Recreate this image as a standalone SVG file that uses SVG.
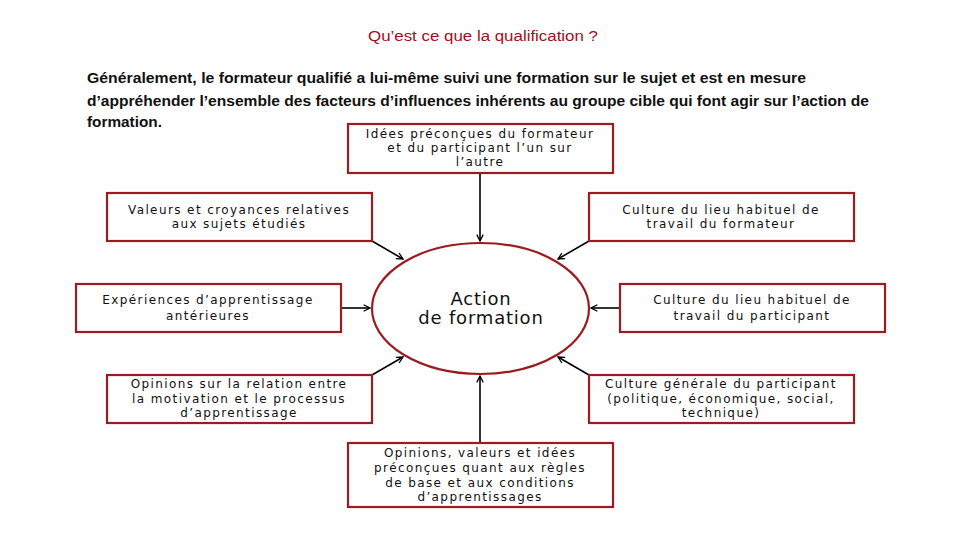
<svg xmlns="http://www.w3.org/2000/svg" width="960" height="540" viewBox="0 0 960 540">
<defs>
<style>
.box{fill:#fff;stroke:#9b1b20;stroke-width:2.2}
.bt{font-family:"DejaVu Sans",Verdana,sans-serif;font-size:12px;letter-spacing:1.4px;fill:#111;text-anchor:middle}
.ct{font-family:"DejaVu Sans",Verdana,sans-serif;font-size:18px;letter-spacing:0.8px;fill:#111;text-anchor:middle}
.conn{stroke:#000;stroke-width:1.6;fill:none;marker-end:url(#ah)}
.title{font-family:"Liberation Sans",Arial,sans-serif;font-size:14px;fill:#a0101c;text-anchor:middle}
.para{font-family:"Liberation Sans",Arial,sans-serif;font-size:15px;font-weight:bold;fill:#111}
</style>
<marker id="ah" viewBox="0 0 10 10" refX="9" refY="5" markerWidth="8" markerHeight="8" markerUnits="userSpaceOnUse" orient="auto">
<path d="M1,1 L9,5 L1,9" fill="none" stroke="#000" stroke-width="1.6"/>
</marker>
</defs>
<rect width="960" height="540" fill="#fff"/>
<text class="title" x="483" y="41" textLength="230" lengthAdjust="spacingAndGlyphs">Qu’est ce que la qualification ?</text>
<text class="para" x="87" y="83" textLength="719" lengthAdjust="spacingAndGlyphs">Généralement, le formateur qualifié a lui-même suivi une formation sur le sujet et est en mesure</text>
<text class="para" x="87" y="106" textLength="782" lengthAdjust="spacingAndGlyphs">d’appréhender l’ensemble des facteurs d’influences inhérents au groupe cible qui font agir sur l’action de</text>
<text class="para" x="87" y="127" textLength="75" lengthAdjust="spacingAndGlyphs">formation.</text>

<g id="connectors">
<line class="conn" x1="480" y1="173" x2="480" y2="241"/>
<line class="conn" x1="480" y1="443" x2="480" y2="376"/>
<line class="conn" x1="372" y1="241" x2="403" y2="259"/>
<line class="conn" x1="341" y1="308" x2="370" y2="308"/>
<line class="conn" x1="372" y1="375" x2="403" y2="357"/>
<line class="conn" x1="589" y1="241" x2="558" y2="259"/>
<line class="conn" x1="620" y1="308" x2="591" y2="308"/>
<line class="conn" x1="589" y1="375" x2="558" y2="357"/>
</g>

<g id="center">
<ellipse cx="480.5" cy="308.5" rx="108.5" ry="65.5" fill="#fff" stroke="#9b1b20" stroke-width="2.2"/>
<text class="ct" x="481" y="305">Action</text>
<text class="ct" x="481" y="324">de formation</text>
</g>

<g id="n-top">
<rect class="box" x="348" y="124" width="265" height="49"/>
<text class="bt" x="480" y="138">Idées préconçues du formateur</text>
<text class="bt" x="480" y="152">et du participant l’un sur</text>
<text class="bt" x="480" y="166">l’autre</text>
</g>

<g id="n-topleft">
<rect class="box" x="107" y="193" width="265" height="48"/>
<text class="bt" x="239" y="214">Valeurs et croyances relatives</text>
<text class="bt" x="239" y="228">aux sujets étudiés</text>
</g>

<g id="n-topright">
<rect class="box" x="589" y="193" width="265" height="48"/>
<text class="bt" x="721" y="214">Culture du lieu habituel de</text>
<text class="bt" x="721" y="228">travail du formateur</text>
</g>

<g id="n-midleft">
<rect class="box" x="76" y="284" width="265" height="48"/>
<text class="bt" x="208" y="304">Expériences d’apprentissage</text>
<text class="bt" x="208" y="320">antérieures</text>
</g>

<g id="n-midright">
<rect class="box" x="620" y="284" width="265" height="48"/>
<text class="bt" x="752" y="304">Culture du lieu habituel de</text>
<text class="bt" x="752" y="320">travail du participant</text>
</g>

<g id="n-botleft">
<rect class="box" x="107" y="375" width="265" height="48"/>
<text class="bt" x="239" y="388">Opinions sur la relation entre</text>
<text class="bt" x="239" y="403">la motivation et le processus</text>
<text class="bt" x="239" y="417">d’apprentissage</text>
</g>

<g id="n-botright">
<rect class="box" x="589" y="375" width="265" height="48"/>
<text class="bt" x="721" y="388">Culture générale du participant</text>
<text class="bt" x="721" y="403">(politique, économique, social,</text>
<text class="bt" x="721" y="417">technique)</text>
</g>

<g id="n-bottom">
<rect class="box" x="348" y="443" width="265" height="64"/>
<text class="bt" x="480" y="457">Opinions, valeurs et idées</text>
<text class="bt" x="480" y="472">préconçues quant aux règles</text>
<text class="bt" x="480" y="487">de base et aux conditions</text>
<text class="bt" x="480" y="501">d’apprentissages</text>
</g>
</svg>
